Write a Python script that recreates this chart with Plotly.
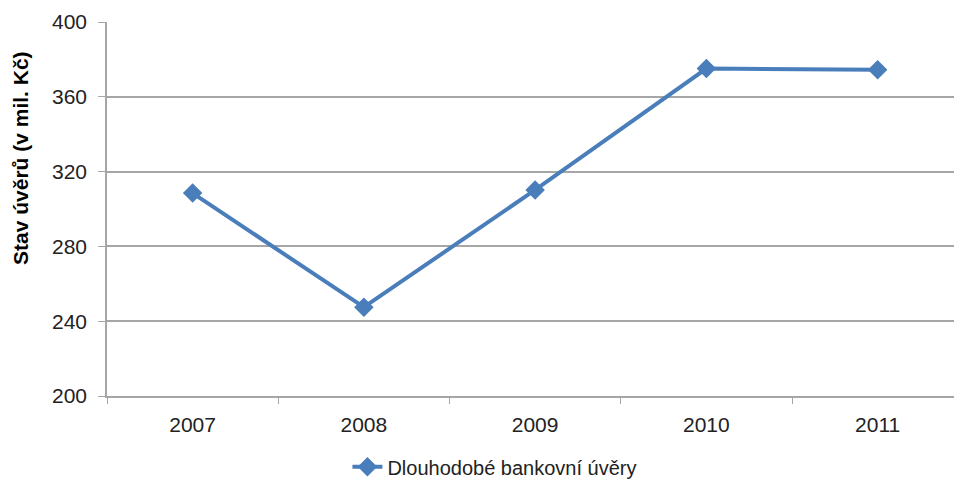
import plotly.graph_objects as go

years = ["2007", "2008", "2009", "2010", "2011"]
values = [308.5, 247.5, 310.2, 375.1, 374.5]
y_ticks = [200, 240, 280, 320, 360, 400]
series_name = "Dlouhodobé bankovní úvěry"
y_title = "Stav úvěrů (v mil. Kč)"

blue = "#4a7ebb"
grid = "#a6a6a6"
font = "Liberation Sans"

fig = go.Figure()
fig.add_trace(go.Scatter(
    x=years, y=values, mode="lines+markers", name=series_name,
    line=dict(color=blue, width=4),
    marker=dict(symbol="diamond", size=15, color=blue),
))

fig.update_layout(
    width=954, height=482,
    margin=dict(l=107, r=0, t=22, b=86, autoexpand=False),
    paper_bgcolor="white", plot_bgcolor="white",
    font=dict(family=font, size=21, color="#222222"),
    showlegend=True,
    legend=dict(orientation="h", x=0.458, xanchor="center",
                yref="container", y=0.072, yanchor="top",
                font=dict(size=20, color="#222222", family=font)),
    xaxis=dict(
        type="category", range=[-0.5, 4.446], automargin=False,
        tickson="boundaries", ticks="outside", ticklen=6, tickcolor=grid,
        ticklabelstandoff=9,
        showgrid=False, showline=True, linecolor=grid, linewidth=1.5,
        tickfont=dict(size=21, family=font, color="#222222"),
    ),
    yaxis=dict(
        range=[200, 400], tickvals=y_ticks, automargin=False,
        ticks="outside", ticklen=7, tickcolor=grid,
        ticklabelstandoff=7,
        showgrid=True, gridcolor=grid, gridwidth=1.5,
        showline=True, linecolor=grid, linewidth=1.5,
        zeroline=False,
        tickfont=dict(size=21, family=font, color="#222222"),
    ),
    annotations=[dict(
        text="<b>" + y_title + "</b>", textangle=-90,
        xref="paper", yref="paper", x=(20 - 107) / 847, y=(396 - 158) / 374,
        xanchor="center", yanchor="middle", showarrow=False,
        font=dict(size=21, family=font, color="#000000"),
    )],
)

fig.write_html(
    "out.html",
    config={"displayModeBar": False},
    post_script="document.body.style.margin='0px';document.body.style.overflow='hidden';",
)
